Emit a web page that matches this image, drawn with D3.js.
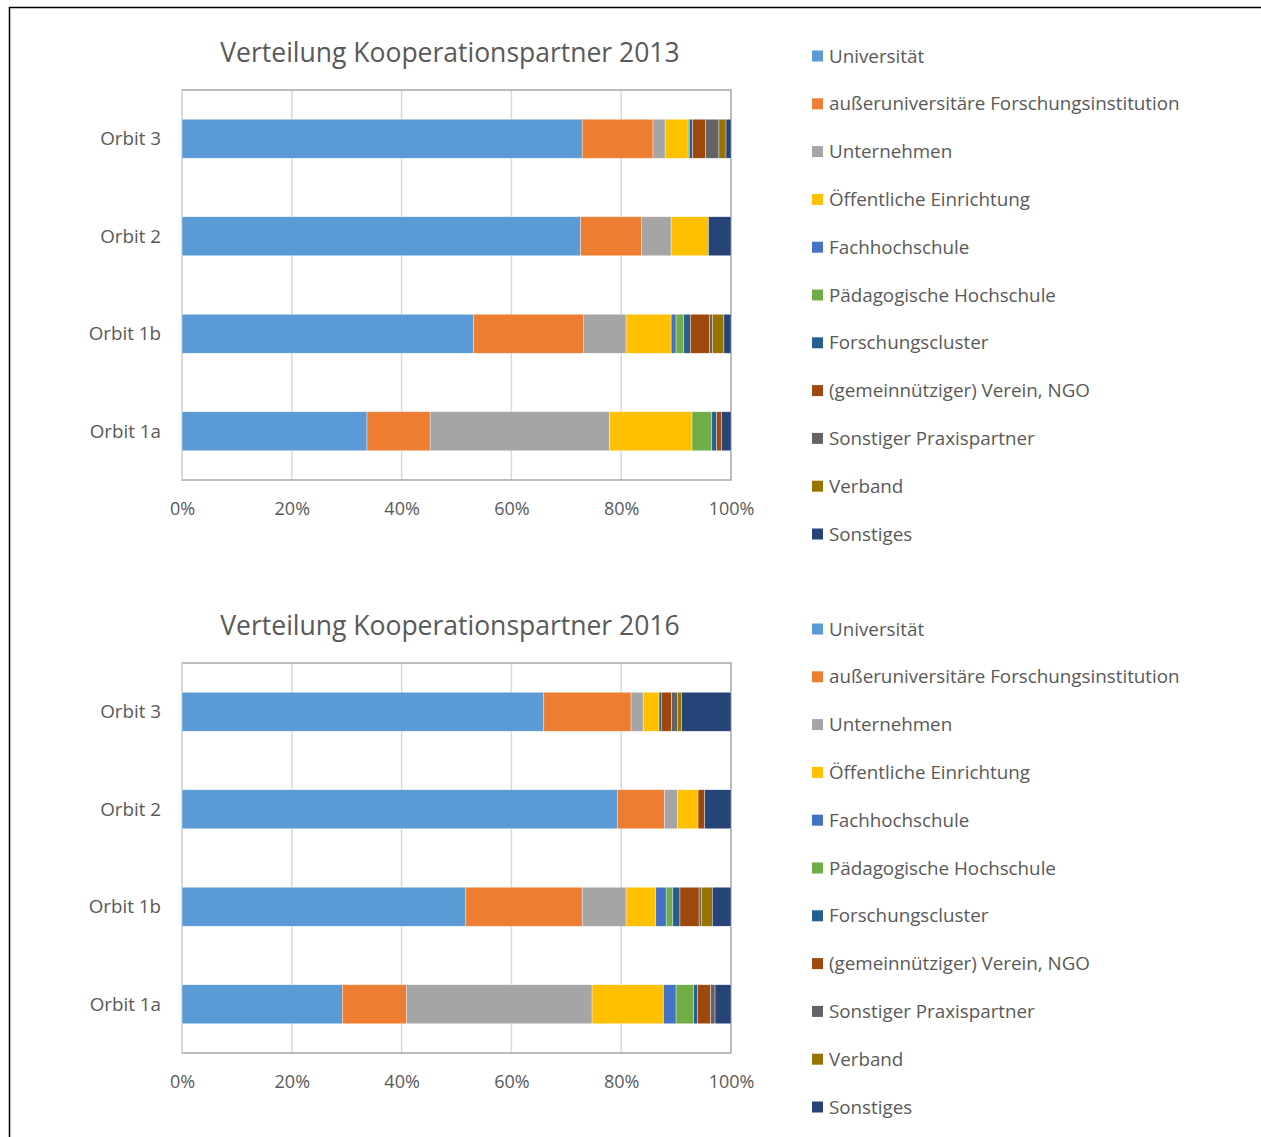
<!DOCTYPE html>
<html>
<head>
<meta charset="utf-8">
<script src="https://cdn.jsdelivr.net/npm/d3@7"></script>
<style>
  body { margin: 0; background: #fff; }
  svg { display: block; font-family: "Open Sans", sans-serif; }
  .title { font-size: 26.5px; fill: #595959; }
  .axis text { font-family: "Open Sans", sans-serif; font-size: 18px; fill: #595959; }
  .axis.cat text { font-size: 18.8px; }
  .legend text { font-size: 18.8px; fill: #595959; }
</style>
</head>
<body>
<svg width="1261" height="1137"></svg>
<script>
const orbits = ["Orbit 3", "Orbit 2", "Orbit 1b", "Orbit 1a"];

const partners = [
    "Universität",
    "außeruniversitäre Forschungsinstitution",
    "Unternehmen",
    "Öffentliche Einrichtung",
    "Fachhochschule",
    "Pädagogische Hochschule",
    "Forschungscluster",
    "(gemeinnütziger) Verein, NGO",
    "Sonstiger Praxispartner",
    "Verband",
    "Sonstiges"
];

const colors = ["#5b9bd5", "#ed7d31", "#a5a5a5", "#ffc000", "#4472c4", "#70ad47",
                "#255e91", "#9e480e", "#636363", "#997300", "#264478"];

// shares in % per orbit, same order as partners
const shares2013 = [
    [72.9, 12.9, 2.2, 4.2, 0, 0.2, 0.6, 2.4, 2.4, 1.3, 0.9],
    [72.6, 11.1, 5.4, 6.8, 0, 0, 0, 0, 0, 0, 4.1],
    [53.1, 20.0, 7.8, 8.2, 0.9, 1.4, 1.2, 3.5, 0.5, 2.1, 1.3],
    [33.7, 11.5, 32.7, 15.0, 0, 3.6, 0.9, 0.9, 0, 0, 1.7]
];

const shares2016 = [
    [65.9, 15.9, 2.2, 2.9, 0, 0, 0.4, 1.9, 1.1, 0.7, 9.0],
    [79.3, 8.6, 2.4, 3.7, 0, 0, 0, 1.2, 0, 0, 4.8],
    [51.7, 21.2, 8.0, 5.4, 1.9, 1.2, 1.3, 3.5, 0.4, 2.0, 3.4],
    [29.2, 11.7, 33.8, 13.0, 2.3, 3.2, 0.7, 2.4, 0.8, 0, 2.9]
];

const tickValues = [0, 20, 40, 60, 80, 100];

const svg = d3.select("svg");

// outer frame (top and left edge visible)
svg.append("path")
    .attr("d", "M9.5,1137 V7.5 H1261")
    .attr("fill", "none")
    .attr("stroke", "#000")
    .attr("stroke-width", 1.5);

function drawChart(title, shares, top) {
    const g = svg.append("g").attr("transform", `translate(0,${top})`);
    const plot = { left: 182, right: 731, top: 90, bottom: 480 };

    const x = d3.scaleLinear().domain([0, 100]).range([plot.left, plot.right]);
    const y = d3.scaleBand().domain(orbits).range([plot.top, plot.bottom]).paddingInner(0.6).paddingOuter(0.3);

    g.append("text")
        .attr("class", "title")
        .attr("x", 450)
        .attr("y", 62)
        .attr("text-anchor", "middle")
        .text(title);

    // gridlines
    g.append("g")
        .selectAll("line")
        .data(tickValues.slice(1, -1))
        .join("line")
        .attr("x1", d => x(d)).attr("x2", d => x(d))
        .attr("y1", plot.top).attr("y2", plot.bottom)
        .attr("stroke", "#d9d9d9")
        .attr("stroke-width", 1.5);

    // plot border
    g.append("rect")
        .attr("x", plot.left).attr("y", plot.top)
        .attr("width", plot.right - plot.left).attr("height", plot.bottom - plot.top)
        .attr("fill", "none")
        .attr("stroke", "#a6a6a6")
        .attr("stroke-width", 1.5);

    g.append("line")
        .attr("x1", plot.left).attr("x2", plot.left)
        .attr("y1", plot.top).attr("y2", plot.bottom)
        .attr("stroke", "#d9d9d9")
        .attr("stroke-width", 2);

    // stacked bars
    const rows = shares.map((vals, i) => {
        let acc = 0;
        return vals.map((v, k) => {
            const seg = { orbit: orbits[i], k, x0: acc, x1: acc + v };
            acc += v;
            return seg;
        }).filter(s => s.x1 > s.x0);
    });

    g.append("g")
        .selectAll("g")
        .data(rows)
        .join("g")
        .selectAll("rect")
        .data(d => d)
        .join("rect")
        .attr("x", d => x(d.x0))
        .attr("y", d => y(d.orbit))
        .attr("width", d => x(d.x1) - x(d.x0))
        .attr("height", y.bandwidth())
        .attr("fill", d => colors[d.k])
        .attr("stroke", "#fff")
        .attr("stroke-opacity", 0.6)
        .attr("stroke-width", 0.6);

    // axes
    g.append("g")
        .attr("class", "axis")
        .attr("transform", `translate(0,${plot.bottom})`)
        .call(d3.axisBottom(x).tickValues(tickValues).tickFormat(d => d + "%").tickSize(0).tickPadding(0))
        .call(a => a.select(".domain").remove())
        .selectAll("text").attr("y", 29).attr("dy", "0.35em");

    g.append("g")
        .attr("class", "axis cat")
        .attr("transform", `translate(${plot.left},0)`)
        .call(d3.axisLeft(y).tickSize(0).tickPadding(21))
        .call(a => a.select(".domain").remove())
        .selectAll("text").attr("dy", "0.35em");

    // legend
    const legend = g.append("g").attr("class", "legend");
    const items = legend.selectAll("g")
        .data(partners)
        .join("g")
        .attr("transform", (d, i) => `translate(812,${56 + i * 47.8})`);
    items.append("rect")
        .attr("x", 0).attr("y", -5.5)
        .attr("width", 11).attr("height", 11)
        .attr("fill", (d, i) => colors[i]);
    items.append("text")
        .attr("x", 17)
        .attr("dy", "0.35em")
        .text(d => d);
}

drawChart("Verteilung Kooperationspartner 2013", shares2013, 0);
drawChart("Verteilung Kooperationspartner 2016", shares2016, 573);
</script>
</body>
</html>
